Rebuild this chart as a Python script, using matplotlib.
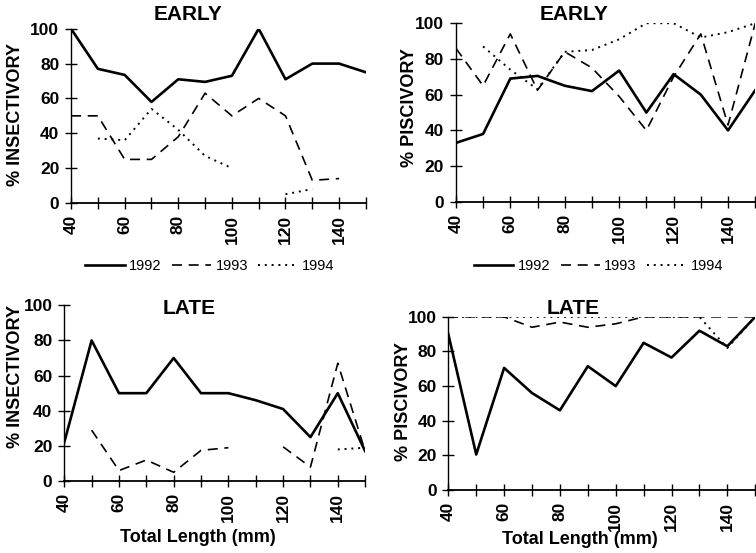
import numpy as np
import matplotlib
matplotlib.use('Agg')
import matplotlib.pyplot as plt

plt.rcParams['font.family'] = ['Liberation Sans', 'DejaVu Sans']
plt.rcParams['font.weight'] = 'bold'

nan = np.nan

# Total length classes (mm)
length = [40, 50, 60, 70, 80, 90, 100, 110, 120, 130, 140, 150]
tick_labels = ['40', '', '60', '', '80', '', '100', '', '120', '', '140', '']
years = ['1992', '1993', '1994']

# EARLY - % insectivory
early_ins_1992 = [100, 77, 73.5, 58, 71, 69.5, 73, 100, 71, 80, 80, 75]
early_ins_1993 = [50, 50, 25, 25, 38, 63, 50, 60, 50, 13, 14, nan]
early_ins_1994 = [nan, 37, 36, 54, 42, 27, 20, nan, 5, 8, nan, nan]

# EARLY - % piscivory
early_pis_1992 = [33, 38, 69, 70.5, 65, 62, 73.5, 50, 71.5, 60, 40, 62.5]
early_pis_1993 = [86, 65, 94, 62.5, 84, 75, 59, 40, 70, 94, 43, 100]
early_pis_1994 = [nan, 87, 74, 63, 84, 85, 91, 100, 100, 92, 95, 100]

# LATE - % insectivory
late_ins_1992 = [22, 80, 50, 50, 70, 50, 50, 46, 41, 25, 50, 17]
late_ins_1993 = [nan, 29, 6, 12, 5, 17.5, 19, nan, 19.5, 8, 67, 17]
late_ins_1994 = [nan, nan, nan, nan, nan, nan, nan, nan, nan, nan, 18, 19]

# LATE - % piscivory
late_pis_1992 = [90, 20.5, 70.5, 56, 46, 71.5, 60, 85, 76.5, 92, 83, 100]
late_pis_1993 = [100, 100, 100, 94, 97, 94, 96, 100, 100, 100, 100, 100]
late_pis_1994 = [100, 100, 100, 100, 100, 100, 100, 100, 100, 100, 82, 100]

styles = [dict(color='black', lw=1.9, ls='-'),
          dict(color='black', lw=1.2, ls=(0, (6, 4))),
          dict(color='black', lw=1.4, ls=(0, (1, 2.5)))]

fig = plt.figure(figsize=(7.56, 5.53), dpi=100)

# rect, series, legend anchor (None = no legend)
panels = [
    ([0.094, 0.633, 0.390, 0.315], (early_ins_1992, early_ins_1993, early_ins_1994), (0.471, -0.362)),
    ([0.603, 0.635, 0.396, 0.323], (early_pis_1992, early_pis_1993, early_pis_1994), (0.477, -0.357)),
    ([0.085, 0.130, 0.398, 0.318], (late_ins_1992, late_ins_1993, late_ins_1994), None),
    ([0.593, 0.114, 0.406, 0.313], (late_pis_1992, late_pis_1993, late_pis_1994), None),
]

for rect, series, anchor in panels:
    ax = fig.add_axes(rect)
    for vals, yr, st in zip(series, years, styles):
        ax.plot(length, vals, label=yr, **st)
    ax.set_xlim(40, 150)
    ax.set_ylim(0, 100)
    ax.set_xticks(length)
    ax.set_xticklabels(tick_labels, rotation=90, fontsize=12.5, fontweight='bold')
    ax.set_yticks([0, 20, 40, 60, 80, 100])
    ax.set_yticklabels(['0', '20', '40', '60', '80', '100'], fontsize=12.5, fontweight='bold')
    ax.tick_params(direction='inout', length=9, width=1, pad=4)
    for s in ['top', 'right']:
        ax.spines[s].set_visible(False)
    ax.spines['left'].set_linewidth(1)
    ax.spines['bottom'].set_linewidth(1.3)
    ax.patch.set_alpha(0)
    if anchor is not None:
        leg = ax.legend(loc='center', bbox_to_anchor=anchor, ncol=3, frameon=False,
                        fontsize=10.5, handlelength=2.7, columnspacing=0.7, handletextpad=0.3)
        for t in leg.get_texts():
            t.set_fontweight('normal')

fig.text(188 / 756, 1 - 15 / 553, 'EARLY', ha='center', va='center', fontsize=15, fontweight='bold')
fig.text(574 / 756, 1 - 14 / 553, 'EARLY', ha='center', va='center', fontsize=15, fontweight='bold')
fig.text(189 / 756, 1 - 308 / 553, 'LATE', ha='center', va='center', fontsize=15, fontweight='bold')
fig.text(573 / 756, 1 - 309 / 553, 'LATE', ha='center', va='center', fontsize=15, fontweight='bold')

fig.text(16 / 756, 1 - 115 / 553, '% INSECTIVORY', rotation=90, ha='center', va='center', fontsize=13, fontweight='bold')
fig.text(409 / 756, 1 - 108 / 553, '% PISCIVORY', rotation=90, ha='center', va='center', fontsize=13, fontweight='bold')
fig.text(16 / 756, 1 - 377 / 553, '% INSECTIVORY', rotation=90, ha='center', va='center', fontsize=13, fontweight='bold')
fig.text(404 / 756, 1 - 402 / 553, '% PISCIVORY', rotation=90, ha='center', va='center', fontsize=13, fontweight='bold')

fig.text(198 / 756, 1 - 538 / 553, 'Total Length (mm)', ha='center', va='center', fontsize=13, fontweight='bold')
fig.text(580 / 756, 1 - 540 / 553, 'Total Length (mm)', ha='center', va='center', fontsize=13, fontweight='bold')

fig.savefig('out.png', dpi=100)
